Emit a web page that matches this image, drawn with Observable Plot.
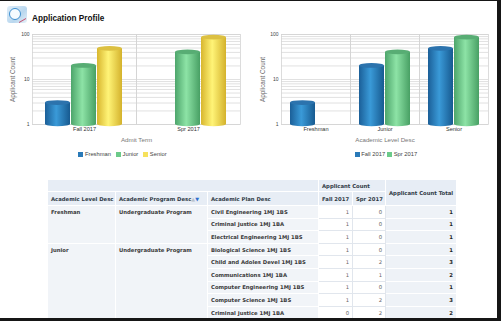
<!DOCTYPE html>
<html><head><meta charset="utf-8">
<script src="https://cdn.jsdelivr.net/npm/d3@7"></script>
<script src="https://cdn.jsdelivr.net/npm/@observablehq/plot@0.6"></script>
<style>
html,body{margin:0;padding:0;background:#fff;}
#page{position:relative;width:501px;height:321px;box-sizing:border-box;border-style:solid;border-color:#161616;border-width:1px 4px 3px 0;overflow:hidden;font-family:"Liberation Sans",Arial,sans-serif;background:#fff;}
#icon{position:absolute;left:7px;top:5px;width:20px;height:17px;border-radius:3px;background:linear-gradient(135deg,#dfeefa,#b9d7ee 60%,#e8f1f8);}
#icon:before{content:"";position:absolute;left:2px;top:2px;width:10px;height:10px;border-radius:50%;border:1.5px solid #3d8fd0;background:#f4fbff;}
#icon:after{content:"";position:absolute;left:12px;top:9px;width:7px;height:5px;border-bottom:1.5px solid #c04a6a;transform:skewY(-30deg);}
#title{position:absolute;left:32px;top:13px;font-size:8.2px;font-weight:bold;color:#111;}
.chart{position:absolute;top:24px;}
.chart svg{overflow:visible;font-family:"Liberation Sans",Arial,sans-serif;}
.chart [aria-label="y-axis tick label"] text{font-size:5px;fill:#444;}
.chart [aria-label="fx-axis tick label"] text{font-size:5.6px;fill:#333;}
.chart [aria-label="y-axis label"] text{font-size:6.4px;fill:#666;}
.chart [aria-label="fx-axis label"] text{font-size:6.2px;fill:#777;}
.legbox{position:absolute;top:150px;display:flex;justify-content:center;}
.legbox .lg-swatches-wrap{min-height:0;margin:0;font-size:5.8px;font-family:"Liberation Sans",Arial,sans-serif;color:#444;}
.legbox .lg-swatch{margin-right:2px;}
#l1 .lg-swatch{margin-right:5px;}
.legbox .lg-swatch > svg{margin-right:1.5px;}
#tbl{position:absolute;left:47px;top:178px;border-collapse:collapse;table-layout:fixed;width:409px;font-family:"DejaVu Sans",Tahoma,sans-serif;font-size:5.3px;color:#333;}
#tbl td,#tbl th{padding:0 3px;white-space:nowrap;overflow:hidden;border:1px solid #fff;box-sizing:border-box;}
#tbl th{background:#e7edf5;font-weight:bold;text-align:left;color:#2f3a45;}
#tbl tr.h1 th{height:12px;}
#tbl tr.h2 th{height:14px;}
#tbl td{height:12.6px;background:#f1f4f8;font-weight:bold;color:#3a3a3a;vertical-align:middle;}
#tbl td.rh{vertical-align:top;padding-top:3px;}
#tbl td.num{background:#fff;border:1px solid #e1e6ed;text-align:right;font-weight:normal;color:#666;}
#tbl td.tot{background:#eef2f7;text-align:right;color:#222;}
#tbl th.tot{text-align:center;}
.up{color:#b9c1cc;font-size:5px;}
.dn{color:#2f6fce;font-size:5px;}
</style>
</head><body>
<svg width="0" height="0" style="position:absolute">
<defs>
<linearGradient id="gB" x1="0" x2="1" y1="0" y2="0"><stop offset="0" stop-color="#1b5f98"/><stop offset="0.45" stop-color="#3a9ad8"/><stop offset="1" stop-color="#175a90"/></linearGradient>
<linearGradient id="gG" x1="0" x2="1" y1="0" y2="0"><stop offset="0" stop-color="#4da56b"/><stop offset="0.45" stop-color="#8de3a6"/><stop offset="1" stop-color="#48a064"/></linearGradient>
<linearGradient id="gY" x1="0" x2="1" y1="0" y2="0"><stop offset="0" stop-color="#d8b62e"/><stop offset="0.45" stop-color="#fff477"/><stop offset="1" stop-color="#d4b22c"/></linearGradient>
</defs>
</svg>
<div id="page">
  <div id="icon"></div>
  <div id="title">Application Profile</div>
  <div id="c1" class="chart" style="left:0px;width:250px;"></div>
  <div id="c2" class="chart" style="left:250px;width:250px;"></div>
  <div id="l1" class="legbox" style="left:0px;width:250px;"></div>
  <div id="l2" class="legbox" style="left:262px;width:250px;"></div>
  <table id="tbl"></table>
</div>
<script>
// ---- chart data ----
const terms = ["Fall 2017", "Spr 2017"];
const levels = ["Freshman", "Junior", "Senior"];
const fallCounts = [3, 20, 48];
const sprCounts = [0, 40, 85];
const yTickLabels = [1, 10, 100];

// ---- table data ----
const tLevel = ["Freshman", "", "", "Junior", "", "", "", "", ""];
const tProgram = ["Undergraduate Program", "", "", "Undergraduate Program", "", "", "", "", ""];
const tPlan = ["Civil Engineering 1MJ 1BS", "Criminal Justice 1MJ 1BA", "Electrical Engineering 1MJ 1BS",
  "Biological Science 1MJ 1BS", "Child and Adoles Devel 1MJ 1BS", "Communications 1MJ 1BA",
  "Computer Engineering 1MJ 1BS", "Computer Science 1MJ 1BS", "Criminal Justice 1MJ 1BA"];
const tFall = [1, 1, 1, 1, 1, 1, 1, 1, 0];
const tSpr = [0, 0, 0, 0, 2, 1, 0, 2, 2];
const tTotal = [1, 1, 1, 1, 3, 2, 1, 3, 2];
const groupSpans = [3, 6];

const flat = {"Freshman": "#2a7ab8", "Junior": "#6cca8a", "Senior": "#f6e15c", "Fall 2017": "#2a7ab8", "Spr 2017": "#6cca8a"};
const caps = {"url(#gB)": "#2c73ad", "url(#gG)": "#58ad74", "url(#gY)": "#dcc042"};

function cylinder(index, scales, values, dimensions, context, next) {
  const g = next(index, scales, values, dimensions, context);
  const ns = "http://www.w3.org/2000/svg";
  for (const r of Array.from(g.querySelectorAll("rect"))) {
    const x = +r.getAttribute("x"), y = +r.getAttribute("y");
    const w = +r.getAttribute("width"), h = +r.getAttribute("height");
    const fill = r.getAttribute("fill");
    const bot = document.createElementNS(ns, "ellipse");
    bot.setAttribute("cx", x + w / 2); bot.setAttribute("cy", y + h);
    bot.setAttribute("rx", w / 2); bot.setAttribute("ry", 2.2);
    bot.setAttribute("fill", fill);
    r.parentNode.insertBefore(bot, r);
    const top = document.createElementNS(ns, "ellipse");
    top.setAttribute("cx", x + w / 2); top.setAttribute("cy", y);
    top.setAttribute("rx", w / 2); top.setAttribute("ry", 2.4);
    top.setAttribute("fill", caps[fill] || fill);
    r.parentNode.appendChild(top);
  }
  return g;
}

const gridTicks = d3.scaleLog().domain([1, 100]).ticks();

const byTerm = [];
const byLevel = [];
levels.forEach((lv, i) => {
  if (fallCounts[i] > 0) { byTerm.push({term: terms[0], level: lv, value: fallCounts[i]}); byLevel.push({term: terms[0], level: lv, value: fallCounts[i]}); }
  if (sprCounts[i] > 0) { byTerm.push({term: terms[1], level: lv, value: sprCounts[i]}); byLevel.push({term: terms[1], level: lv, value: sprCounts[i]}); }
});

function chart({data, fxKey, xKey, fxDomain, xDomain, fills, ml, mr, fxLabel, padOuter, yLabelOffset}) {
  return Plot.plot({
    width: 250, height: 124,
    marginLeft: ml, marginRight: mr, marginTop: 9, marginBottom: 25,
    fx: {domain: fxDomain, padding: 0},
    x: {domain: xDomain, axis: null, paddingInner: 0.03, paddingOuter: padOuter},
    y: {type: "log", domain: [1, 100], axis: null},
    color: {domain: xDomain, range: fills},
    marks: [
      Plot.gridY(gridTicks, {stroke: "#d9d9d9", strokeOpacity: 1, strokeWidth: 0.8}),
      Plot.frame({stroke: "#d4d4d4", strokeWidth: 0.8}),
      Plot.barY(data, {fx: fxKey, x: xKey, y1: 1, y2: "value", fill: xKey, render: cylinder}),
      Plot.axisY({ticks: yTickLabels, tickFormat: d => String(d), tickSize: 0, tickPadding: 3,
        label: "Applicant Count", labelAnchor: "center", labelArrow: "none", labelOffset: yLabelOffset}),
      Plot.axisFx({anchor: "bottom", tickSize: 0, tickPadding: 3, label: fxLabel, labelAnchor: "center", labelArrow: "none", labelOffset: 17})
    ]
  });
}

document.getElementById("c1").appendChild(chart({
  data: byTerm, fxKey: "term", xKey: "level", fxDomain: terms, xDomain: levels,
  fills: ["url(#gB)", "url(#gG)", "url(#gY)"], ml: 32, mr: 10, fxLabel: "Admit Term", padOuter: 0.5, yLabelOffset: 22
}));
document.getElementById("c2").appendChild(chart({
  data: byLevel, fxKey: "level", xKey: "term", fxDomain: levels, xDomain: terms,
  fills: ["url(#gB)", "url(#gG)"], ml: 30, mr: 11, fxLabel: "Academic Level Desc", padOuter: 0.3, yLabelOffset: 21
}));

document.getElementById("l1").appendChild(Plot.legend({
  color: {type: "ordinal", domain: levels, range: levels.map(d => flat[d])},
  swatchSize: 5, className: "lg"
}));
document.getElementById("l2").appendChild(Plot.legend({
  color: {type: "ordinal", domain: terms, range: terms.map(d => flat[d])},
  swatchSize: 5, className: "lg"
}));

// ---- table ----
const tbl = document.getElementById("tbl");
const widths = [68, 92, 111, 34, 33, 71];
let html = "<colgroup>" + widths.map(w => `<col style="width:${w}px">`).join("") + "</colgroup>";
html += `<tr class="h1"><th colspan="3"></th><th colspan="2">Applicant Count</th><th rowspan="2" class="tot">Applicant Count Total</th></tr>`;
html += `<tr class="h2"><th>Academic Level Desc</th><th>Academic Program Desc<span class="up">&#9650;</span><span class="dn">&#9660;</span></th><th>Academic Plan Desc</th><th>${terms[0]}</th><th>${terms[1]}</th></tr>`;
let gi = 0, left = 0;
tPlan.forEach((p, i) => {
  html += "<tr>";
  if (left === 0) {
    const span = groupSpans[gi++];
    left = span;
    html += `<td class="rh" rowspan="${span}">${tLevel[i]}</td><td class="rh" rowspan="${span}">${tProgram[i]}</td>`;
  }
  left--;
  html += `<td>${p}</td><td class="num">${tFall[i]}</td><td class="num">${tSpr[i]}</td><td class="tot">${tTotal[i]}</td></tr>`;
});
tbl.innerHTML = html;
</script>
</body></html>
